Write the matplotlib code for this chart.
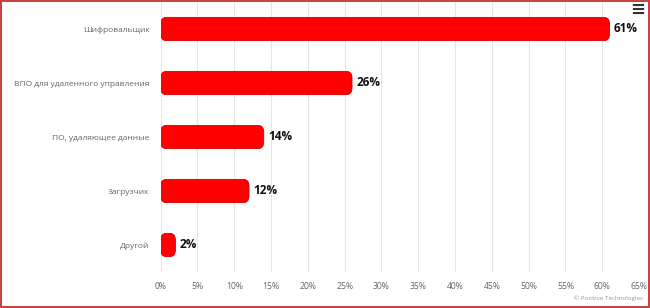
import matplotlib.pyplot as plt
from matplotlib.patches import FancyBboxPatch

categories = ["Шифровальщик", "ВПО для удаленного управления", "ПО, удаляющее данные",
              "Загрузчик", "Другой"]
values = [61, 26, 14, 12, 2]
ticks = list(range(0, 70, 5))
tick_labels = [f"{t}%" for t in ticks]

plt.rcParams['font.family'] = ['Open Sans', 'DejaVu Sans']

fig = plt.figure(figsize=(6.5, 3.08), dpi=100)
fig.patch.set_facecolor('white')
fig.patch.set_edgecolor('#c8453f')
fig.patch.set_linewidth(1.5)

ax = fig.add_axes([160.7 / 650, 1 - 272 / 308, (639 - 160.7) / 650, 270 / 308])

y = list(range(len(categories)))
bars = ax.barh(y, values, height=0.43, color='none')
for b in bars:
    x0, y0 = b.get_x(), b.get_y()
    w, h = b.get_width(), b.get_height()
    p = FancyBboxPatch((x0, y0), w, h,
                       boxstyle="round,pad=0,rounding_size=0.75",
                       mutation_aspect=h / 2.6,
                       facecolor='#ff0000', edgecolor='#d40000', linewidth=0.6,
                       zorder=3)
    ax.add_patch(p)

for yi, v in zip(y, values):
    ax.text(v + 0.6, yi, f"{v}%", va='center', ha='left', fontsize=8.5,
            fontweight='bold', color='#111111', zorder=4)

ax.set_xlim(0, 65)
ax.set_ylim(len(categories) - 0.5, -0.5)
ax.set_xticks(ticks)
ax.set_xticklabels(tick_labels)
ax.set_yticks(y)
ax.set_yticklabels(categories)
ax.tick_params(axis='x', length=0, labelsize=6.2, labelcolor='#666666', pad=7)
ax.tick_params(axis='y', length=0, labelsize=6.0, labelcolor='#666666', pad=8)
ax.grid(axis='x', color='#e6e6e6', linewidth=0.8, zorder=0)
ax.set_axisbelow(True)
for s in ax.spines.values():
    s.set_visible(False)

fig.text(643 / 650, 1 - 298 / 308, "© Positive Technologies", ha='right', va='center',
         fontsize=4.5, color='#999999')
fig.text(638 / 650, 1 - 10 / 308, "≡", ha='center', va='center', fontsize=13,
         fontweight='bold', color='#333333', family='DejaVu Sans')

fig.savefig("out.png", dpi=100)
